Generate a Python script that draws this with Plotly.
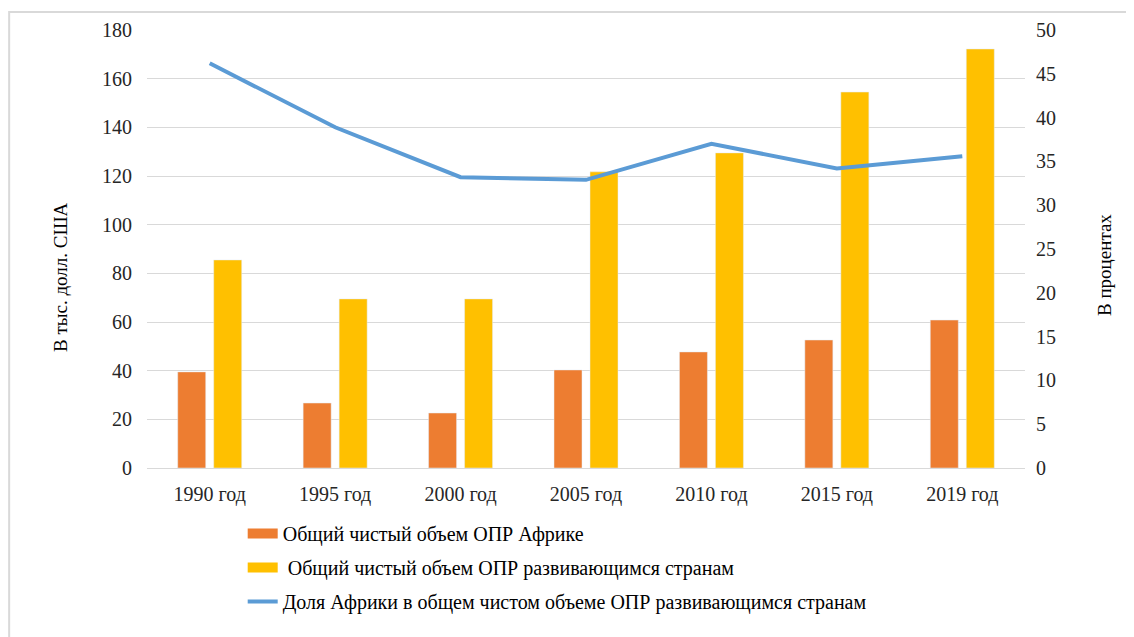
import plotly.graph_objects as go

years = ["1990 год", "1995 год", "2000 год", "2005 год", "2010 год", "2015 год", "2019 год"]
oda_africa = [39.5, 26.7, 22.6, 40.3, 47.7, 52.6, 60.8]
oda_developing = [85.5, 69.5, 69.5, 121.7, 129.5, 154.5, 172.2]
africa_share = [46.2, 38.9, 33.2, 32.9, 37.0, 34.2, 35.6]

name_africa = "Общий чистый объем ОПР Африке"
name_dev = " Общий чистый объем ОПР развивающимся странам"
name_share = "Доля Африки в общем чистом объеме ОПР развивающимся странам"

orange = "#ed7d31"
yellow = "#ffc000"
blue = "#5b9bd5"

font = "Liberation Serif, Times New Roman, serif"
txt = "#262626"

fig = go.Figure()
fig.add_trace(go.Bar(x=years, y=oda_africa, marker_color=orange, showlegend=False))
fig.add_trace(go.Bar(x=years, y=oda_developing, marker_color=yellow, showlegend=False))
fig.add_trace(go.Scatter(x=years, y=africa_share, yaxis="y2", mode="lines",
                         line=dict(color=blue, width=4), showlegend=False))

# legend entries: thick lines give the flat rectangles seen in the original
for name, col, w, grp in [(name_africa, orange, 10, "a"), (name_dev, yellow, 10, "b"),
                          (name_share, blue, 4, "c")]:
    fig.add_trace(go.Scatter(x=[None], y=[None], mode="lines", name=name,
                             line=dict(color=col, width=w), legendgroup=grp,
                             hoverinfo="skip"))

fig.update_layout(
    width=1126, height=629,
    margin=dict(l=139, r=109, t=22, b=169, autoexpand=False),
    paper_bgcolor="white", plot_bgcolor="white",
    font=dict(family=font, size=20, color=txt),
    barmode="group", bargap=0.426, bargroupgap=0.222,
    showlegend=True,
    legend=dict(x=0.109, y=-0.105, xanchor="left", yanchor="top",
                orientation="v", traceorder="grouped", tracegroupgap=5,
                font=dict(family=font, size=20, color="black"),
                bgcolor="rgba(0,0,0,0)"),
    xaxis=dict(showline=True, linecolor="#d9d9d9", linewidth=1, automargin=False,
               ticks="", ticklabelstandoff=8, tickfont=dict(size=20, color=txt)),
    yaxis=dict(range=[0, 180], dtick=20, showgrid=True, gridcolor="#d9d9d9",
               gridwidth=1, zeroline=False, ticks="", ticklabelstandoff=14,
               automargin=False, tickfont=dict(size=20, color=txt)),
    yaxis2=dict(range=[0, 50], dtick=5, overlaying="y", side="right",
                showgrid=False, zeroline=False, ticks="", ticklabelstandoff=10,
                automargin=False, tickfont=dict(size=20, color=txt)),
    # axis titles sit a little below the axis centre in the original
    annotations=[
        dict(text="В тыс. долл. США", xref="paper", yref="paper", x=-0.0991, y=0.436,
             textangle=-90, showarrow=False, xanchor="center", yanchor="middle",
             font=dict(size=19, color="black")),
        dict(text="В процентах", xref="paper", yref="paper", x=1.0911, y=0.4635,
             textangle=-90, showarrow=False, xanchor="center", yanchor="middle",
             font=dict(size=19, color="black")),
    ],
    shapes=[dict(type="rect", xref="paper", yref="paper",
                 x0=-0.157, x1=1.3, y0=-0.6, y1=1.041,
                 line=dict(color="#d9d9d9", width=2), fillcolor="rgba(0,0,0,0)",
                 layer="below")],
)

fig.write_html("out.html")
